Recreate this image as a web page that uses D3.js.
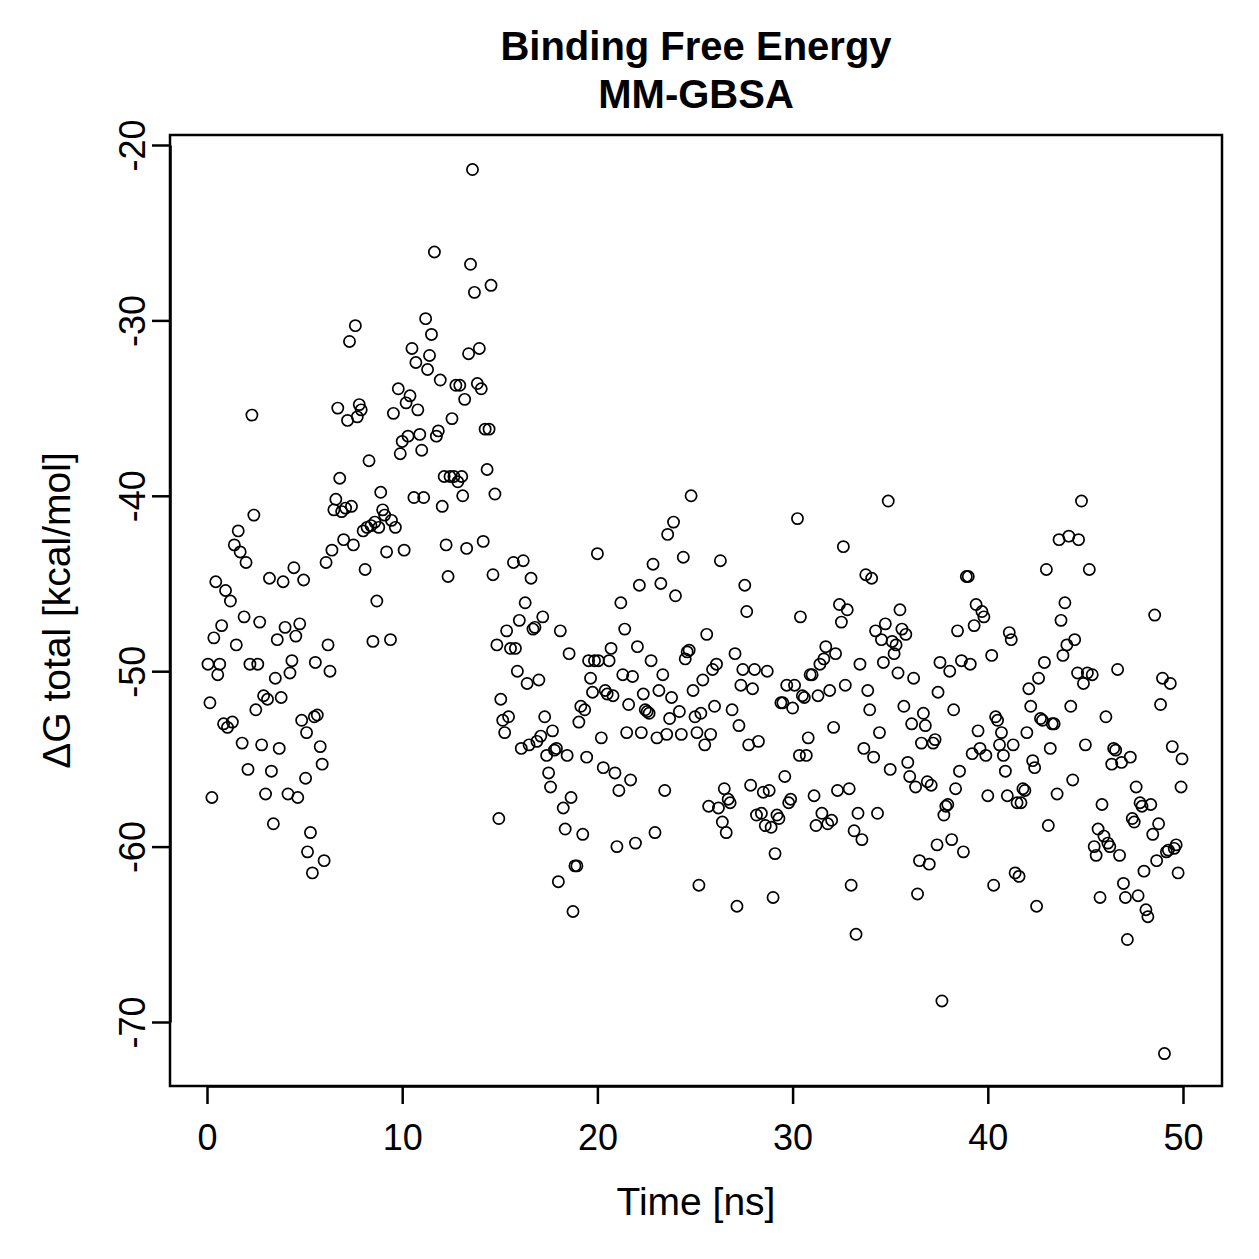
<!DOCTYPE html>
<html>
<head>
<meta charset="utf-8">
<script src="https://cdn.jsdelivr.net/npm/d3@7"></script>
<style>
  body { margin: 0; background: #fff; }
  text { font-family: "Liberation Sans", Arial, Helvetica, sans-serif; fill: #000; }
</style>
</head>
<body>
<div id="chart"></div>
<script>
// MM-GBSA binding free energy per frame
const time = [
  0.05, 0.15, 0.25, 0.35, 0.45, 0.55, 0.65, 0.75, 0.85, 0.95,
  1.05, 1.2, 1.3, 1.4, 1.5, 1.6, 1.7, 1.8, 1.9, 2.0,
  2.1, 2.2, 2.3, 2.4, 2.5, 2.6, 2.7, 2.8, 2.9, 3.0,
  3.1, 3.2, 3.3, 3.4, 3.5, 3.6, 3.7, 3.8, 3.9, 4.0,
  4.15, 4.25, 4.35, 4.45, 4.55, 4.65, 4.75, 4.85, 4.95, 5.05,
  5.1, 5.15, 5.3, 5.4, 5.5, 5.55, 5.65, 5.8, 5.9, 6.0,
  6.1, 6.2, 6.3, 6.4, 6.5, 6.6, 6.7, 6.8, 6.9, 7.0,
  7.1, 7.2, 7.3, 7.4, 7.5, 7.6, 7.7, 7.8, 7.9, 8.0,
  8.1, 8.2, 8.3, 8.4, 8.5, 8.6, 8.7, 8.8, 8.9, 9.0,
  9.1, 9.2, 9.4, 9.45, 9.55, 9.65, 9.8, 9.9, 10.0, 10.1,
  10.2, 10.3, 10.4, 10.5, 10.6, 10.7, 10.8, 10.9, 11.0, 11.1,
  11.2, 11.3, 11.4, 11.5, 11.65, 11.75, 11.85, 11.95, 12.05, 12.15,
  12.25, 12.35, 12.45, 12.55, 12.65, 12.75, 12.85, 12.95, 13.05, 13.1,
  13.2, 13.3, 13.4, 13.5, 13.6, 13.7, 13.85, 13.95, 14.05, 14.15,
  14.25, 14.35, 14.45, 14.55, 14.65, 14.75, 14.85, 14.95, 15.05, 15.15,
  15.25, 15.35, 15.45, 15.55, 15.7, 15.8, 15.9, 16.0, 16.1, 16.2,
  16.3, 16.4, 16.5, 16.6, 16.7, 16.8, 16.9, 17.0, 17.1, 17.2,
  17.3, 17.4, 17.5, 17.6, 17.7, 17.8, 17.9, 18.0, 18.1, 18.25,
  18.35, 18.45, 18.55, 18.65, 18.75, 18.85, 18.95, 19.05, 19.15, 19.25,
  19.35, 19.45, 19.55, 19.65, 19.75, 19.85, 20.0, 20.05, 20.2, 20.3,
  20.4, 20.5, 20.6, 20.7, 20.8, 20.9, 21.0, 21.1, 21.2, 21.3,
  21.4, 21.5, 21.6, 21.7, 21.8, 21.95, 22.05, 22.15, 22.25, 22.35,
  22.45, 22.55, 22.65, 22.75, 22.85, 22.95, 23.05, 23.15, 23.25, 23.35,
  23.45, 23.55, 23.6, 23.7, 23.8, 23.9, 24.0, 24.2, 24.3, 24.4,
  24.5, 24.6, 24.7, 24.8, 24.9, 25.0, 25.1, 25.2, 25.3, 25.4,
  25.5, 25.6, 25.7, 25.8, 25.9, 26.0, 26.1, 26.2, 26.3, 26.4,
  26.5, 26.6, 26.7, 26.8, 26.9, 27.05, 27.15, 27.25, 27.35, 27.45,
  27.55, 27.65, 27.75, 27.85, 27.95, 28.05, 28.15, 28.25, 28.4, 28.5,
  28.6, 28.7, 28.8, 28.9, 29.0, 29.1, 29.2, 29.3, 29.4, 29.5,
  29.6, 29.7, 29.8, 29.9, 30.0, 30.1, 30.25, 30.35, 30.4, 30.5,
  30.6, 30.7, 30.8, 30.9, 31.0, 31.1, 31.2, 31.3, 31.4, 31.5,
  31.6, 31.7, 31.8, 31.9, 32.0, 32.1, 32.2, 32.3, 32.4, 32.5,
  32.6, 32.7, 32.8, 32.9, 33.0, 33.15, 33.25, 33.35, 33.45, 33.55,
  33.65, 33.75, 33.85, 33.95, 34.05, 34.15, 34.25, 34.35, 34.45, 34.55,
  34.65, 34.75, 34.9, 35.0, 35.1, 35.2, 35.3, 35.4, 35.5, 35.6,
  35.7, 35.8, 35.9, 36.0, 36.1, 36.2, 36.3, 36.4, 36.5, 36.6,
  36.7, 36.8, 36.9, 37.0, 37.1, 37.2, 37.3, 37.4, 37.45, 37.55,
  37.65, 37.75, 37.85, 37.95, 38.05, 38.15, 38.25, 38.35, 38.45, 38.55,
  38.65, 38.75, 38.9, 39.0, 39.1, 39.2, 39.3, 39.4, 39.5, 39.6,
  39.7, 39.8, 39.9, 40.0, 40.2, 40.3, 40.4, 40.5, 40.6, 40.7,
  40.8, 40.9, 41.0, 41.1, 41.2, 41.3, 41.4, 41.5, 41.6, 41.7,
  41.8, 41.9, 42.0, 42.1, 42.2, 42.3, 42.4, 42.5, 42.6, 42.7,
  42.8, 42.9, 43.0, 43.1, 43.2, 43.3, 43.4, 43.55, 43.65, 43.75,
  43.85, 43.95, 44.05, 44.15, 44.25, 44.35, 44.45, 44.6, 44.65, 44.8,
  44.9, 45.0, 45.1, 45.2, 45.35, 45.45, 45.55, 45.65, 45.75, 45.85,
  45.95, 46.05, 46.15, 46.25, 46.35, 46.45, 46.55, 46.65, 46.75, 46.85,
  46.95, 47.05, 47.15, 47.3, 47.4, 47.5, 47.6, 47.7, 47.8, 47.9,
  48.0, 48.1, 48.2, 48.35, 48.45, 48.55, 48.65, 48.75, 48.85, 48.95,
  49.05, 49.15, 49.25, 49.35, 49.45, 49.55, 49.65, 49.75, 49.9, 49.95
]
const dG = [
  -49.6, -51.8, -57.2, -48.1, -44.9, -50.2, -49.6, -47.4, -53.0, -45.4,
  -53.2, -46.0, -52.9, -42.8, -48.5, -42.0, -43.2, -54.1, -46.9, -43.8,
  -55.6, -49.6, -35.4, -41.1, -52.2, -49.6, -47.2, -54.2, -51.4, -57.0,
  -51.6, -44.7, -55.7, -58.7, -50.4, -48.2, -54.4, -51.5, -44.9, -47.5,
  -57.0, -50.1, -49.4, -44.1, -48.0, -57.2, -47.3, -52.8, -44.8, -56.1,
  -53.5, -60.3, -59.2, -61.5, -52.6, -49.5, -52.5, -54.3, -55.3, -60.8,
  -43.8, -48.5, -50.0, -43.1, -40.8, -40.2, -35.0, -39.0, -40.9, -42.5,
  -40.7, -35.7, -31.2, -40.6, -42.8, -30.3, -35.5, -34.8, -35.1, -42.0,
  -44.2, -41.8, -38.0, -41.7, -48.3, -41.5, -46.0, -41.8, -39.8, -40.8,
  -41.1, -43.2, -48.2, -41.4, -35.3, -41.8, -33.9, -37.6, -36.9, -43.1,
  -34.7, -36.6, -34.3, -31.6, -40.1, -32.4, -35.1, -36.5, -37.4, -40.1,
  -29.9, -32.8, -32.0, -30.8, -26.1, -36.6, -36.3, -33.4, -40.6, -38.9,
  -42.8, -44.6, -38.9, -35.6, -38.9, -33.7, -39.2, -33.7, -38.9, -40.0,
  -34.5, -43.0, -31.9, -26.8, -21.4, -28.4, -33.6, -31.6, -33.9, -42.6,
  -36.2, -38.5, -36.2, -28.0, -44.5, -39.9, -48.5, -58.4, -51.6, -52.8,
  -53.5, -47.7, -52.6, -48.7, -43.8, -48.7, -50.0, -47.1, -54.4, -43.7,
  -46.1, -50.7, -54.2, -44.7, -47.6, -47.5, -54.0, -50.5, -53.7, -46.9,
  -52.6, -54.8, -55.8, -56.6, -53.4, -54.5, -54.4, -62.0, -47.7, -57.8,
  -59.0, -54.8, -49.0, -57.2, -63.7, -61.1, -61.1, -52.9, -52.0, -59.3,
  -52.2, -54.9, -49.4, -50.4, -51.2, -49.4, -43.3, -49.4, -53.8, -55.5,
  -51.1, -51.3, -49.4, -48.7, -51.4, -55.8, -60.0, -56.8, -46.1, -50.2,
  -47.6, -53.5, -51.9, -56.2, -50.3, -59.8, -48.6, -45.1, -53.5, -51.3,
  -52.2, -52.3, -52.4, -49.4, -43.9, -59.2, -53.8, -51.1, -45.0, -50.2,
  -56.8, -53.6, -42.2, -52.7, -51.5, -41.5, -45.7, -52.3, -53.6, -43.5,
  -49.3, -48.9, -48.8, -40.0, -51.1, -52.6, -53.5, -62.2, -52.4, -50.5,
  -54.2, -47.9, -57.7, -53.6, -49.9, -52.0, -49.6, -57.8, -43.7, -58.6,
  -56.7, -59.2, -57.3, -57.5, -52.2, -49.0, -63.4, -53.1, -50.8, -49.9,
  -45.1, -46.6, -54.2, -56.5, -51.0, -49.9, -58.2, -54.0, -58.1, -56.9,
  -58.8, -50.0, -56.8, -58.9, -62.9, -60.4, -58.2, -58.4, -51.8, -51.8,
  -56.0, -50.8, -57.5, -57.3, -52.1, -50.8, -41.3, -54.8, -46.9, -51.4,
  -51.5, -54.8, -53.8, -50.2, -50.2, -57.1, -58.8, -51.4, -49.6, -58.1,
  -49.3, -48.6, -58.7, -51.1, -58.5, -53.2, -49.0, -56.8, -46.2, -47.2,
  -42.9, -50.8, -46.5, -56.7, -62.2, -59.1, -65.0, -58.1, -49.6, -59.6,
  -54.4, -44.5, -51.1, -52.2, -44.7, -54.9, -47.7, -58.1, -53.5, -48.2,
  -49.5, -47.3, -40.3, -55.6, -48.3, -49.0, -48.5, -50.1, -46.5, -47.6,
  -52.0, -47.9, -55.2, -56.0, -53.0, -50.4, -56.6, -62.7, -60.8, -54.1,
  -52.4, -53.1, -56.3, -61.0, -56.5, -54.1, -53.9, -59.9, -51.2, -49.5,
  -68.8, -58.2, -57.7, -57.6, -50.0, -59.6, -52.2, -56.7, -47.7, -55.7,
  -49.4, -60.3, -44.6, -44.6, -49.6, -54.7, -47.4, -46.2, -53.4, -54.4,
  -46.6, -46.9, -54.8, -57.1, -49.1, -62.2, -52.6, -52.8, -54.2, -53.5,
  -54.8, -55.7, -57.1, -47.8, -48.2, -54.2, -61.5, -57.5, -61.7, -57.5,
  -56.7, -56.8, -53.5, -51.0, -52.0, -55.1, -55.5, -63.4, -50.4, -52.7,
  -52.8, -49.5, -44.2, -58.8, -54.4, -53.0, -53.0, -57.0, -42.5, -47.1,
  -49.1, -46.1, -48.5, -42.3, -52.0, -56.2, -48.2, -50.1, -42.5, -40.3,
  -50.7, -54.2, -50.1, -44.2, -50.2, -60.0, -60.5, -59.0, -62.9, -57.6,
  -59.4, -52.6, -59.8, -60.0, -55.3, -54.4, -54.5, -49.9, -60.5, -55.2,
  -62.1, -62.9, -65.3, -54.9, -58.4, -58.6, -56.6, -62.8, -57.5, -57.7,
  -61.4, -63.6, -64.0, -57.6, -59.3, -46.8, -60.8, -58.7, -51.9, -50.4,
  -71.8, -60.3, -60.2, -50.7, -54.3, -60.1, -59.9, -61.5, -56.6, -55.0
]
const xTicks = [0, 10, 20, 30, 40, 50]
const yTicks = [-20, -30, -40, -50, -60, -70]

const W = 1259, H = 1259
const box = { left: 170, right: 1222, top: 135, bottom: 1086 }

const svg = d3.select('#chart').append('svg')
  .attr('width', W)
  .attr('height', H)

const x = d3.scaleLinear().domain([0, 50]).range([207, 1183])
const y = d3.scaleLinear().domain([-20, -70]).range([145, 1022])

// plot frame
svg.append('rect')
  .attr('x', box.left)
  .attr('y', box.top)
  .attr('width', box.right - box.left)
  .attr('height', box.bottom - box.top)
  .attr('fill', 'none')
  .attr('stroke', '#000')
  .attr('stroke-width', 2.5)

// x axis
const xAxis = svg.append('g')
  .attr('transform', 'translate(0,' + box.bottom + ')')
  .call(d3.axisBottom(x).tickValues(xTicks).tickSize(18).tickSizeOuter(0).tickPadding(20))
xAxis.select('.domain').attr('stroke-width', 2.5)
xAxis.selectAll('.tick line').attr('stroke-width', 2.5)
xAxis.selectAll('.tick text')
  .attr('font-size', 36)
  .attr('font-family', '"Liberation Sans", Arial, sans-serif')

// y axis, labels parallel to axis like R's default; plain hyphen minus as in R
const yAxis = svg.append('g')
  .attr('transform', 'translate(' + box.left + ',0)')
  .call(d3.axisLeft(y).tickValues(yTicks).tickSize(18).tickSizeOuter(0).tickFormat(d => String(d)))
yAxis.select('.domain').attr('stroke-width', 2.5)
yAxis.selectAll('.tick line').attr('stroke-width', 2.5)
yAxis.selectAll('.tick text')
  .attr('x', null)
  .attr('dy', null)
  .attr('transform', 'translate(-25,0) rotate(-90)')
  .attr('text-anchor', 'middle')
  .attr('font-size', 36)
  .attr('font-family', '"Liberation Sans", Arial, sans-serif')

// points
svg.append('g')
  .selectAll('circle')
  .data(time.map((t, i) => ({ t: t, g: dG[i] })))
  .join('circle')
  .attr('cx', d => x(d.t))
  .attr('cy', d => y(d.g))
  .attr('r', 5.6)
  .attr('fill', 'none')
  .attr('stroke', '#000')
  .attr('stroke-width', 1.7)

// titles
const midX = (box.left + box.right) / 2
svg.append('text')
  .attr('x', midX).attr('y', 60)
  .attr('text-anchor', 'middle')
  .attr('font-size', 40)
  .attr('font-weight', 'bold')
  .text('Binding Free Energy')
svg.append('text')
  .attr('x', midX).attr('y', 108)
  .attr('text-anchor', 'middle')
  .attr('font-size', 40)
  .attr('font-weight', 'bold')
  .text('MM-GBSA')

svg.append('text')
  .attr('x', midX).attr('y', 1215)
  .attr('text-anchor', 'middle')
  .attr('font-size', 39)
  .text('Time [ns]')

svg.append('text')
  .attr('transform', 'translate(70,' + ((box.top + box.bottom) / 2) + ') rotate(-90)')
  .attr('text-anchor', 'middle')
  .attr('font-size', 39)
  .text('ΔG total [kcal/mol]')
</script>
</body>
</html>
